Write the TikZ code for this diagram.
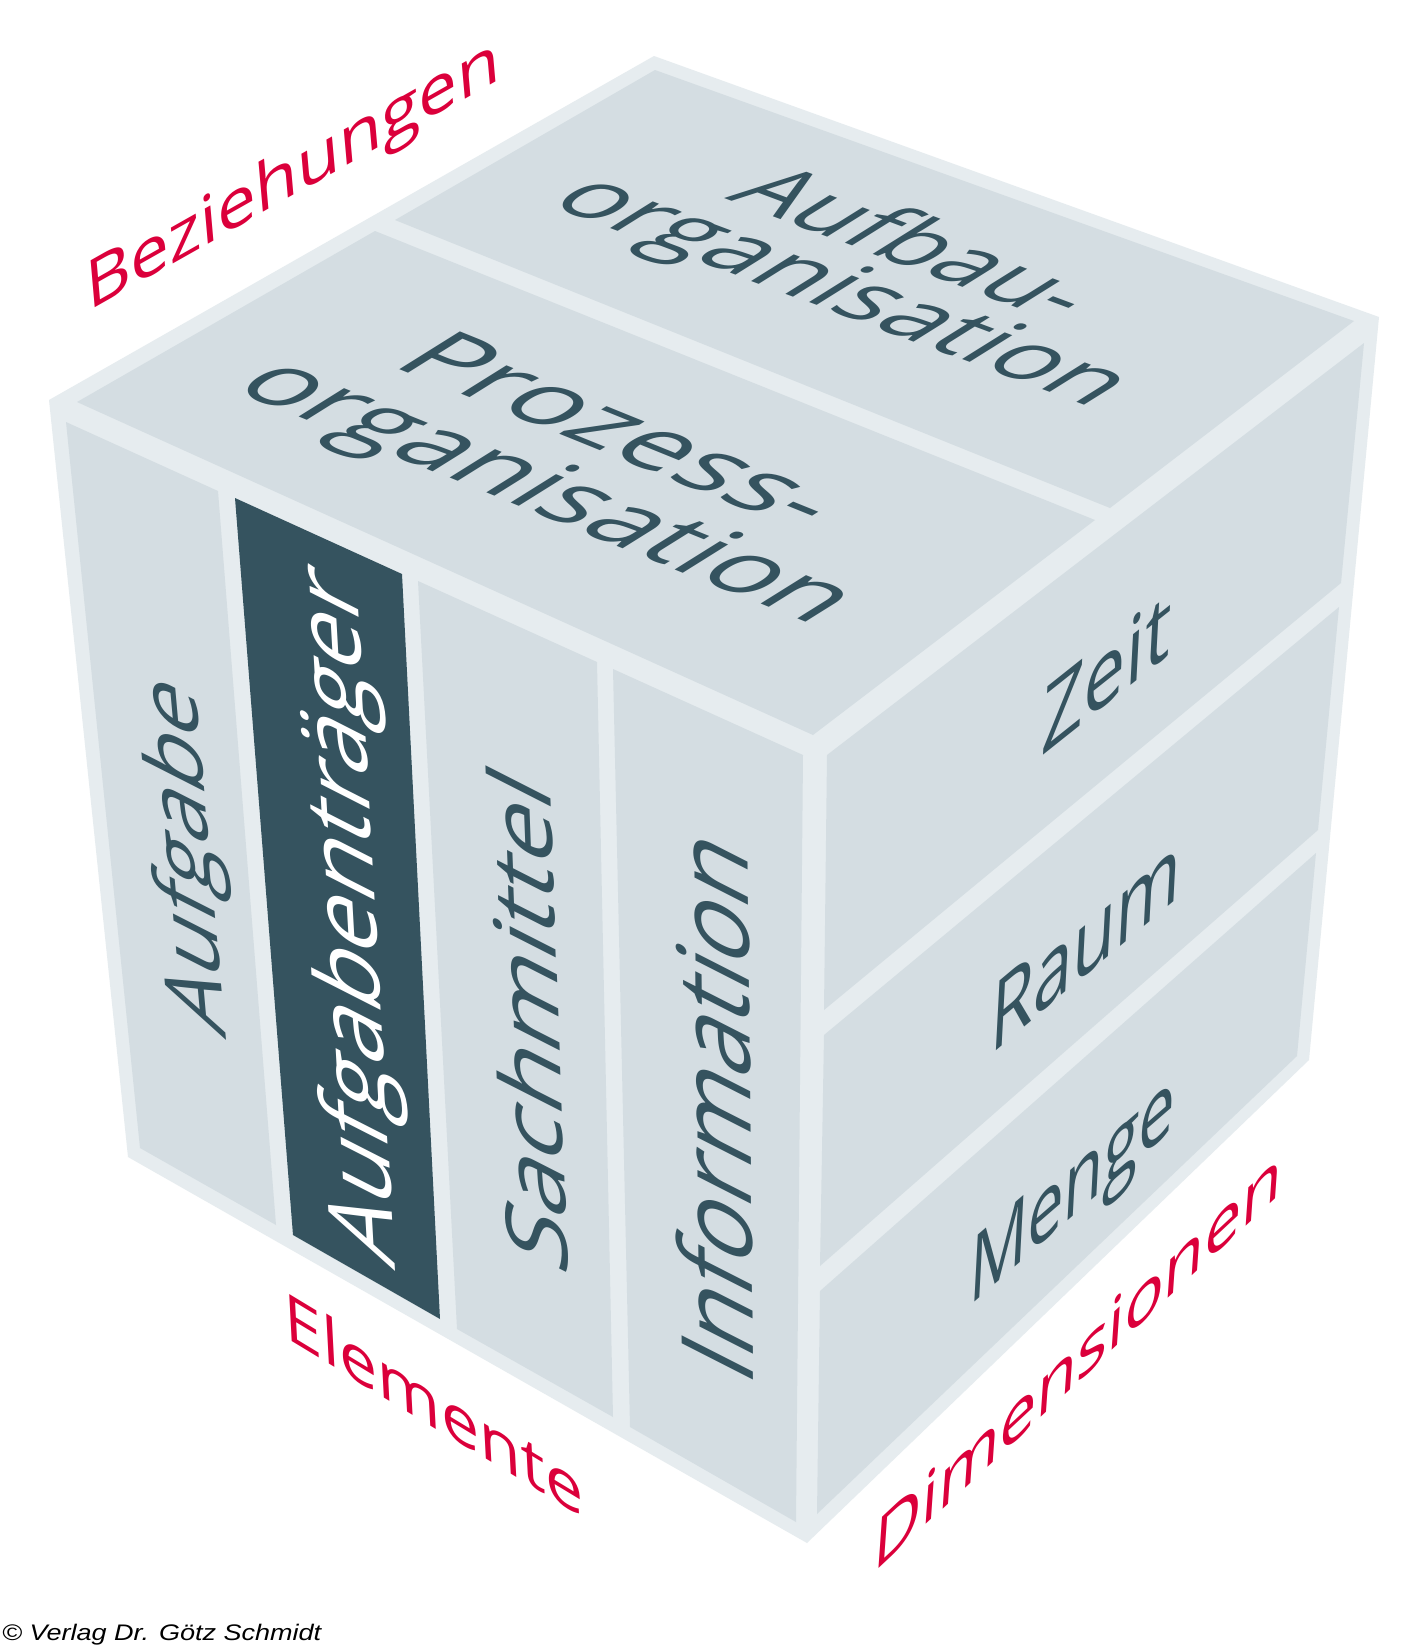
\documentclass[tikz,border=0pt]{standalone}
\usepackage{fontspec}
\setmainfont{Open Sans}
\newfontfamily\copyfont{Liberation Sans}
\usepackage{graphicx}
\definecolor{cubeborder}{HTML}{E6ECEF}
\definecolor{cubepanel}{HTML}{D4DDE2}
\definecolor{cubedark}{HTML}{35535F}
\definecolor{labelred}{HTML}{DB003B}
\tikzset{
  frame/.style={fill=cubeborder},
  panel/.style={fill=cubepanel},
  darkpanel/.style={fill=cubedark},
  facelabel/.style={transform shape, inner sep=0pt, text=cubedark},
  whitelabel/.style={transform shape, inner sep=0pt, text=white},
  redlabel/.style={transform shape, inner sep=0pt, text=labelred},
}
\newcommand{\fitbox}[3]{\resizebox{#1pt}{\height}{\fontsize{#2pt}{#2pt}\selectfont #3}}
\newcommand{\slanttext}[9]{%
  \begin{scope}[shift={(#2,#3)}]
    \pgftransformcm{#4}{#5}{#6}{#7}{\pgfpointorigin}
    \node[#8] (#1) at (0,0) {#9};
  \end{scope}}
\begin{document}
\begin{tikzpicture}[x=1pt,y=-1pt]
\useasboundingbox (0,0) rectangle (1415,1650);
\fill[white] (0,0) rectangle (1415,1650);
% outer silhouette
\fill[frame] (49,400) -- (654,56) -- (1379,317) -- (1309,1060) -- (807,1543) -- (128,1157) -- cycle;
% top face
\fill[panel] (395,220) -- (655,70) -- (1354,321) -- (1110,508) -- cycle;
\fill[panel] (77,402) -- (375,231) -- (1095,520) -- (813,735) -- cycle;
% right face
\fill[panel] (827,755) -- (1364,343) -- (1341,583) -- (824,1010) -- cycle;
\fill[panel] (824,1035) -- (1339,607) -- (1318,830) -- (820,1266) -- cycle;
\fill[panel] (820,1291) -- (1316,853) -- (1297,1056) -- (817,1514) -- cycle;
% left face
\fill[panel] (66,422) -- (218,491) -- (276,1225) -- (140,1148) -- cycle;
\fill[darkpanel] (235,498) -- (402,574) -- (440,1319) -- (293,1235) -- cycle;
\fill[panel] (418,581) -- (597,662) -- (613,1417) -- (457,1329) -- cycle;
\fill[panel] (613,669) -- (803,755) -- (796,1522) -- (630,1427) -- cycle;
% top face texts
\slanttext{prozess}{623}{429}{0.92686}{-0.37541}{0.84805}{0.52992}{facelabel}{\fitbox{440}{100}{Prozess-}}
\slanttext{prozessorg}{543}{494.5}{0.92686}{-0.37541}{0.84805}{0.52992}{facelabel}{\fitbox{630}{100}{organisation}}
\slanttext{aufbau}{919}{241}{0.93667}{-0.35021}{0.84805}{0.52992}{facelabel}{\fitbox{352}{94}{Aufbau-}}
\slanttext{aufbauorg}{839}{294}{0.93667}{-0.35021}{0.84805}{0.52992}{facelabel}{\fitbox{583}{94}{organisation}}
% left face texts
\slanttext{aufgabe}{189.6}{856.5}{-0.08889}{0.99604}{-0.89101}{0.45399}{facelabel}{\fitbox{347}{92}{Aufgabe}}
\slanttext{traeger}{352.4}{917}{-0.05582}{0.99844}{-0.89101}{0.45399}{whitelabel}{\fitbox{685}{102}{Aufgabenträger}}
\slanttext{sachmittel}{527}{1018}{-0.03664}{0.99933}{-0.89101}{0.45399}{facelabel}{\fitbox{489}{96}{Sachmittel}}
\slanttext{information}{713}{1103}{-0.01047}{0.99995}{-0.89101}{0.45399}{facelabel}{\fitbox{535}{112}{Information}}
% right face texts
\slanttext{zeit}{1106.6}{672}{0.78261}{0.62251}{0.05234}{0.99863}{facelabel}{\fitbox{165}{95}{Zeit}}
\slanttext{raum}{1086}{942}{0.76604}{0.64279}{0.05234}{0.99863}{facelabel}{\fitbox{248}{98}{Raum}}
\slanttext{menge}{1072}{1196}{0.75471}{0.65606}{0.05234}{0.99863}{facelabel}{\fitbox{272}{94}{Menge}}
% red labels
\slanttext{bez}{293}{178}{0.87036}{0.49242}{-0.08716}{0.99619}{redlabel}{\fitbox{474}{66}{Beziehungen}}
\slanttext{elem}{433.7}{1403.4}{0.85536}{-0.51803}{-0.05234}{0.99863}{redlabel}{\fitbox{349}{66}{Elemente}}
\slanttext{dim}{1078.4}{1358}{0.73036}{0.68306}{0.06976}{0.99756}{redlabel}{\fitbox{558}{72}{Dimensionen}}
% copyright
\node[anchor=base west, inner sep=0pt, text=black] (copy) at (2,1640) {\resizebox{319pt}{\height}{\copyfont\itshape\fontsize{22.5pt}{22.5pt}\selectfont © Verlag Dr. Götz Schmidt}};
\end{tikzpicture}
\end{document}
